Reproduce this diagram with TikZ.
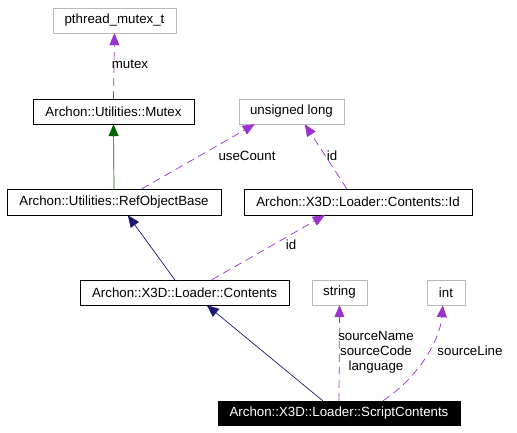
\documentclass[tikz,border=0pt]{standalone}
\usepackage{fontspec}
\setmainfont{Liberation Sans}
\usetikzlibrary{calc,arrows.meta}
\definecolor{usecol}{HTML}{9A32CD}
\definecolor{inhcol}{HTML}{191970}
\definecolor{pubcol}{HTML}{006400}
\tikzset{
	cls/.style={draw=black, inner sep=0pt, minimum height=25pt, font=\fontsize{13.3}{15}\selectfont},
	extcls/.style={cls, draw=black!28},
	curcls/.style={cls, fill=black, text=white},
	lbl/.style={inner sep=0pt, font=\fontsize{13.3}{15}\selectfont, align=center},
	usage/.style={draw=usecol, line width=0.7pt, dash pattern=on 8pt off 5pt, -{Triangle[length=12pt,width=10pt,fill=usecol]}},
	inherit/.style={draw=inhcol, line width=0.7pt, -{Triangle[length=12pt,width=10pt,fill=inhcol]}},
	pubinh/.style={draw=pubcol, line width=0.7pt, -{Triangle[length=12pt,width=10pt,fill=pubcol]}}
}

\begin{document}
\begin{tikzpicture}[x=1pt, y=-1pt]
		%%%%% START %%%%%
		\useasboundingbox (0, 0) rectangle (517, 432);
		
		\node[extcls, minimum width=123pt] (pth) at (114.5, 20.5) {pthread\_mutex\_t};
		\node[cls, minimum width=161pt] (mtx) at (113.5, 111.5) {Archon::Utilities::Mutex};
		\node[extcls, minimum width=105pt] (ulong) at (291.5, 111.5) {unsigned long};
		\node[cls, minimum width=214pt, minimum height=26pt] (rob) at (114, 202) {Archon::Utilities::RefObjectBase};
		\node[cls, minimum width=228pt, minimum height=26pt] (cid) at (358, 202) {Archon::X3D::Loader::Contents::Id};
		\node[cls, minimum width=209pt] (cont) at (184.5, 292.5) {Archon::X3D::Loader::Contents};
		\node[extcls, minimum width=55pt] (str) at (339.5, 292.5) {string};
		\node[extcls, minimum width=38pt] (int) at (446, 292.5) {int};
		\node[curcls, minimum width=242pt, minimum height=24pt] (scr) at (339, 413) {Archon::X3D::Loader::ScriptContents};
		
		\draw[usage] (mtx.north) -- (pth.south);
		\node[lbl] (lmutex) at (130, 64) {mutex};
		
		\draw[pubinh] (rob.north) -- (mtx.south);
		
		\draw[usage] ($(rob.north west)+(135, 0)$) -- ($(ulong.south west)+(16, 0)$);
		\node[lbl] (lusecount) at (247, 156) {useCount};
		\draw[usage] ($(cid.north west)+(103, 0)$) -- ($(ulong.south west)+(66, 0)$);
		\node[lbl] (lidone) at (332, 156) {id};
		
		\draw[inherit] ($(cont.north west)+(95, 0)$) -- ($(rob.south west)+(121, 0)$);
		\draw[usage] ($(cont.north west)+(132, 0)$) -- ($(cid.south west)+(81, 0)$);
		\node[lbl] (lidtwo) at (291, 245) {id};
		
		\draw[inherit] ($(scr.north west)+(105, 0)$) -- ($(cont.south west)+(127, 0)$);
		\draw[usage] (scr.north) -- (str.south);
		\node[lbl] (lsource) at (376, 352) {sourceName\\sourceCode\\language};
		\draw[usage] ($(scr.north west)+(165, 0)$) .. controls (418, 378) and (440, 340) .. ($(int.south west)+(16, 0)$);
		\node[lbl] (lline) at (470, 351) {sourceLine};
		
		%%%%% END %%%%%
	\end{tikzpicture}
\end{document}
